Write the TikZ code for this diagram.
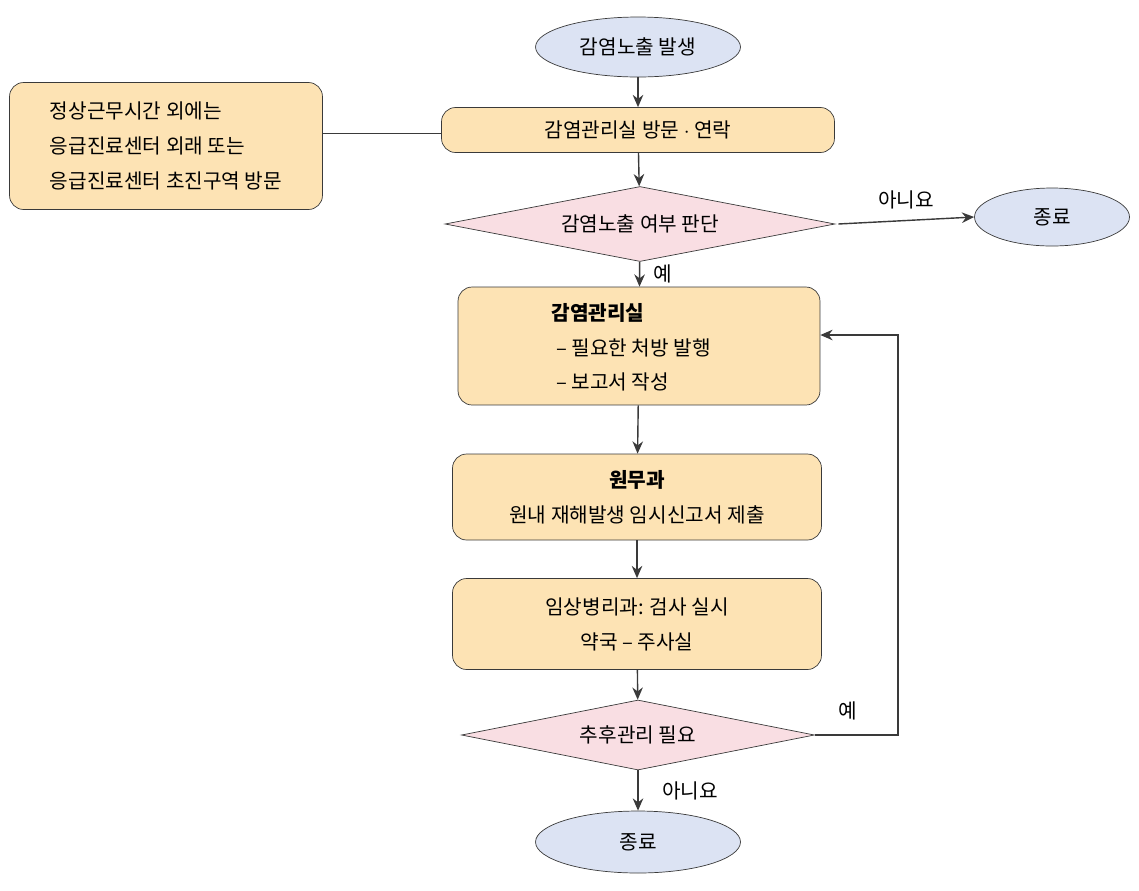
\documentclass[tikz,border=0pt]{standalone}
\usepackage{fontspec}
\setmainfont{Noto Sans CJK KR}
\usetikzlibrary{shapes.geometric,arrows.meta}
\definecolor{boxfill}{HTML}{FDE3B4}
\definecolor{endfill}{HTML}{DCE3F3}
\definecolor{askfill}{HTML}{F9DEE3}
\definecolor{edge}{HTML}{3A3A3A}
\begin{document}
\begin{tikzpicture}[x=0.02cm,y=-0.02cm,font=\fontsize{11.5}{20}\selectfont,
  box/.style={draw=edge,fill=boxfill,rounded corners=8pt,align=center,inner sep=0pt},
  term/.style={draw=edge,fill=endfill,ellipse,inner sep=0pt},
  ask/.style={draw=edge,fill=askfill,diamond,aspect=5.2,inner sep=0pt},
  go/.style={-{Stealth[length=7pt,width=6pt]},thick,edge}]
\useasboundingbox (0,0) rectangle (1139,890);
\node[term,minimum width=205\pgflinewidth*0+4.1cm,minimum height=1.2cm] (start) at (638,47) {감염노출 발생};
\node[box,minimum width=7.86cm,minimum height=0.9cm] (visit) at (638,130) {감염관리실 방문 $\cdot$ 연락};
\node[box,minimum width=6.26cm,minimum height=2.54cm,align=left] (note) at (166,146) {정상근무시간 외에는\\응급진료센터 외래 또는\\응급진료센터 초진구역 방문};
\node[ask,minimum width=7.8cm,minimum height=1.5cm] (check) at (640,224) {감염노출 여부 판단};
\node[term,minimum width=3.1cm,minimum height=1.16cm] (endA) at (1052,217) {종료};
\node[box,minimum width=7.24cm,minimum height=2.36cm] (ctrl) at (639,346) {};
\node[font=\fontsize{11.5}{20}\selectfont\bfseries] at (598,313) {감염관리실};
\node[anchor=west] at (550,348) {– 필요한 처방 발행};
\node[anchor=west] at (550,382) {– 보고서 작성};
\node[box,minimum width=7.38cm,minimum height=1.72cm] (admin) at (637,497) {\textbf{원무과}\\원내 재해발생 임시신고서 제출};
\node[box,minimum width=7.38cm,minimum height=1.82cm] (lab) at (637,624) {임상병리과: 검사 실시\\약국 – 주사실};
\node[ask,minimum width=7.06cm,minimum height=1.4cm] (more) at (638,735) {추후관리 필요};
\node[term,minimum width=4.1cm,minimum height=1.24cm] (endB) at (638,842) {종료};
\coordinate (turn1) at (898,735);
\coordinate (turn2) at (898,335);
\draw[edge] (note.east |- 0,133) -- (visit.west |- 0,133);
\draw[go] (start) -- (visit);
\draw[go] (visit) -- (check);
\draw[go] (check.east) ++(3,0) -- node[above,black,yshift=3pt] {아니요} (endA.west);
\draw[go] (check) -- node[right,black,xshift=4pt] {예} (ctrl);
\draw[go] (ctrl) -- (admin);
\draw[go] (admin) -- (lab);
\draw[go] (lab) -- (more);
\draw[go] (more) -- node[right,black,xshift=10pt] {아니요} (endB);
\draw[go] (more.east) -- (turn1) -- (turn2) -- (ctrl.east |- turn2);
\node at (848,711) {예};
\end{tikzpicture}
\end{document}
